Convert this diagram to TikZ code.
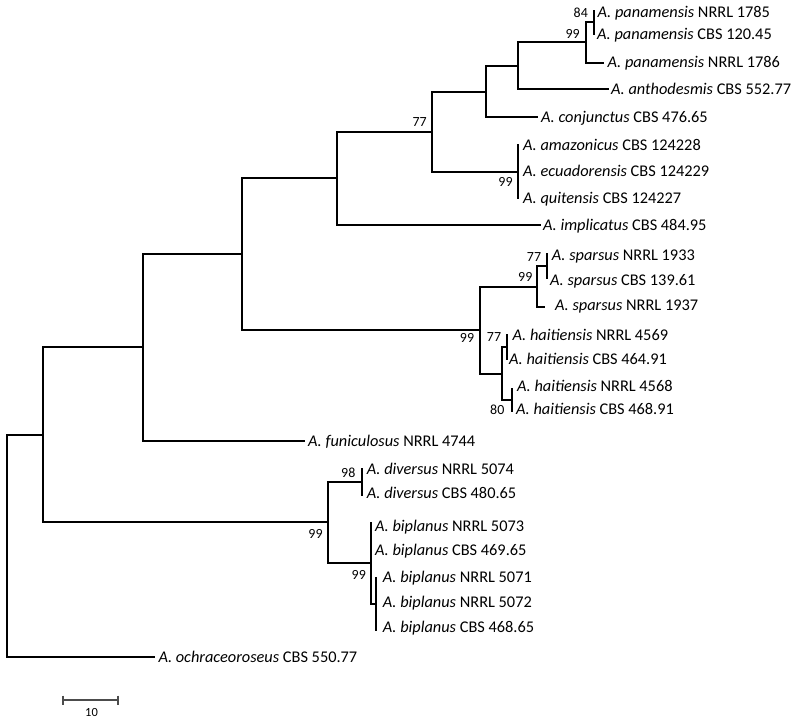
\documentclass[tikz,border=0pt]{standalone}
\usepackage{fontspec}
\setmainfont{Carlito}
\begin{document}
\begin{tikzpicture}[x=1bp,y=-1bp,
  br/.style={line width=2bp, line join=miter},
  leaf/.style={anchor=west, inner sep=0pt, text height=10.5pt, text depth=0pt, font=\fontsize{16.4}{19}\selectfont},
  bs/.style={inner sep=0pt, text height=9pt, text depth=0pt, font=\fontsize{14}{16}\selectfont},
  sb/.style={line width=1.5bp, draw=black!70},
]
\useasboundingbox (0,0) rectangle (800,721);
% internal nodes
\coordinate (R) at (7,546);
\coordinate (N1) at (43,435);
\coordinate (N2) at (143,347);
\coordinate (N3) at (242,254);
\coordinate (N4) at (337,178);
\coordinate (N5) at (432,132);
\coordinate (N6) at (486,92);
\coordinate (N7) at (518,66);
\coordinate (N8) at (586,42);
\coordinate (N9) at (594,22);
\coordinate (Tri) at (518,172);
\coordinate (Nsh) at (480,330);
\coordinate (Sp) at (537,287);
\coordinate (Sp2) at (547,266);
\coordinate (H) at (502,374);
\coordinate (HA) at (507,347);
\coordinate (HB) at (512,400);
\coordinate (Ndb) at (328,522);
\coordinate (Ndiv) at (362,482);
\coordinate (Nbip) at (371,563);
\coordinate (Nbip2) at (376,604);
% leaf tips
\coordinate (l1) at (594,10);
\coordinate (l2) at (594,35);
\coordinate (l3) at (604,63);
\coordinate (l4) at (609,89);
\coordinate (l5) at (538,117);
\coordinate (l6) at (518,144);
\coordinate (l8) at (518,199);
\coordinate (l9) at (541,225);
\coordinate (l10) at (547,253);
\coordinate (l11) at (547,279);
\coordinate (l12) at (545,307);
\coordinate (l13) at (507,334);
\coordinate (l14) at (507,360);
\coordinate (l15) at (512,388);
\coordinate (l16) at (512,412);
\coordinate (l17) at (305,441);
\coordinate (l18) at (362,468);
\coordinate (l19) at (362,496);
\coordinate (l20) at (371,522);
\coordinate (l22) at (376,577);
\coordinate (l24) at (376,631);
\coordinate (l25) at (155,657);
% branches
\draw[br] (R) |- (N1) (R) |- (l25);
\draw[br] (N1) |- (N2) (N1) |- (Ndb);
\draw[br] (N2) |- (N3) (N2) |- (l17);
\draw[br] (N3) |- (N4) (N3) |- (Nsh);
\draw[br] (N4) |- (N5) (N4) |- (l9);
\draw[br] (N5) |- (N6) (N5) |- (Tri);
\draw[br] (N6) |- (N7) (N6) |- (l5);
\draw[br] (N7) |- (N8) (N7) |- (l4);
\draw[br] (N8) |- (N9) (N8) |- (l3);
\draw[br] (N9) |- (l1) (N9) |- (l2);
\draw[br] (Tri) |- (l6) (Tri) |- (l8);
\draw[br] (Nsh) |- (Sp) (Nsh) |- (H);
\draw[br] (Sp) |- (Sp2) (Sp) |- (l12);
\draw[br] (Sp2) |- (l10) (Sp2) |- (l11);
\draw[br] (H) |- (HA) (H) |- (HB);
\draw[br] (HA) |- (l13) (HA) |- (l14);
\draw[br] (HB) |- (l15) (HB) |- (l16);
\draw[br] (Ndb) |- (Ndiv) (Ndb) |- (Nbip);
\draw[br] (Ndiv) |- (l18) (Ndiv) |- (l19);
\draw[br] (Nbip) |- (l20) (Nbip) |- (Nbip2);
\draw[br] (Nbip2) |- (l22) (Nbip2) |- (l24);
% leaf labels
\node[leaf] (t1) at (597.5,12) {\textit{A. panamensis} NRRL 1785};
\node[leaf] (t2) at (597,34) {\textit{A. panamensis} CBS 120.45};
\node[leaf] (t3) at (607.5,62.5) {\textit{A. panamensis} NRRL 1786};
\node[leaf] (t4) at (611,89.3) {\textit{A. anthodesmis} CBS 552.77};
\node[leaf] (t5) at (541,117.3) {\textit{A. conjunctus} CBS 476.65};
\node[leaf] (t6) at (523,145) {\textit{A. amazonicus} CBS 124228};
\node[leaf] (t7) at (523,171.5) {\textit{A. ecuadorensis} CBS 124229};
\node[leaf] (t8) at (523,198) {\textit{A. quitensis} CBS 124227};
\node[leaf] (t9) at (543,225) {\textit{A. implicatus} CBS 484.95};
\node[leaf] (t10) at (551.7,255) {\textit{A. sparsus} NRRL 1933};
\node[leaf] (t11) at (550,280) {\textit{A. sparsus} CBS 139.61};
\node[leaf] (t12) at (555,305) {\textit{A. sparsus} NRRL 1937};
\node[leaf] (t13) at (512.5,335) {\textit{A. haitiensis} NRRL 4569};
\node[leaf] (t14) at (509,359) {\textit{A. haitiensis} CBS 464.91};
\node[leaf] (t15) at (517,386) {\textit{A. haitiensis} NRRL 4568};
\node[leaf] (t16) at (516,409) {\textit{A. haitiensis} CBS 468.91};
\node[leaf] (t17) at (308,441) {\textit{A. funiculosus} NRRL 4744};
\node[leaf] (t18) at (366.7,469.5) {\textit{A. diversus} NRRL 5074};
\node[leaf] (t19) at (366.7,493) {\textit{A. diversus} CBS 480.65};
\node[leaf] (t20) at (375,526) {\textit{A. biplanus} NRRL 5073};
\node[leaf] (t21) at (375,550) {\textit{A. biplanus} CBS 469.65};
\node[leaf] (t22) at (382.7,577) {\textit{A. biplanus} NRRL 5071};
\node[leaf] (t23) at (382.7,602) {\textit{A. biplanus} NRRL 5072};
\node[leaf] (t24) at (382.7,627) {\textit{A. biplanus} CBS 468.65};
\node[leaf] (t25) at (158.3,657) {\textit{A. ochraceoroseus} CBS 550.77};
% bootstrap values
\node[bs] (b1) at (580.8,13.3) {84};
\node[bs] (b2) at (572.7,34) {99};
\node[bs] (b3) at (419.7,122.5) {77};
\node[bs] (b4) at (505.5,182) {99};
\node[bs] (b5) at (534,257) {77};
\node[bs] (b6) at (525.3,277.5) {99};
\node[bs] (b7) at (467,338) {99};
\node[bs] (b8) at (494,337) {77};
\node[bs] (b9) at (497.3,410) {80};
\node[bs] (b10) at (348.3,473) {98};
\node[bs] (b11) at (315.5,533.7) {99};
\node[bs] (b12) at (358.8,575.5) {99};
% scale bar
\coordinate (s1) at (63,700);
\coordinate (s2) at (118,700);
\coordinate (s1t) at (63,695.5);
\coordinate (s1b) at (63,704.5);
\coordinate (s2t) at (118,695.5);
\coordinate (s2b) at (118,704.5);
\draw[sb] (s1) -- (s2);
\draw[sb] (s1t) -- (s1b);
\draw[sb] (s2t) -- (s2b);
\node[inner sep=0pt, text height=8.5pt, text depth=0pt, font=\fontsize{12.5}{14}\selectfont] (sl) at (91.5,712.5) {10};
\end{tikzpicture}
\end{document}
